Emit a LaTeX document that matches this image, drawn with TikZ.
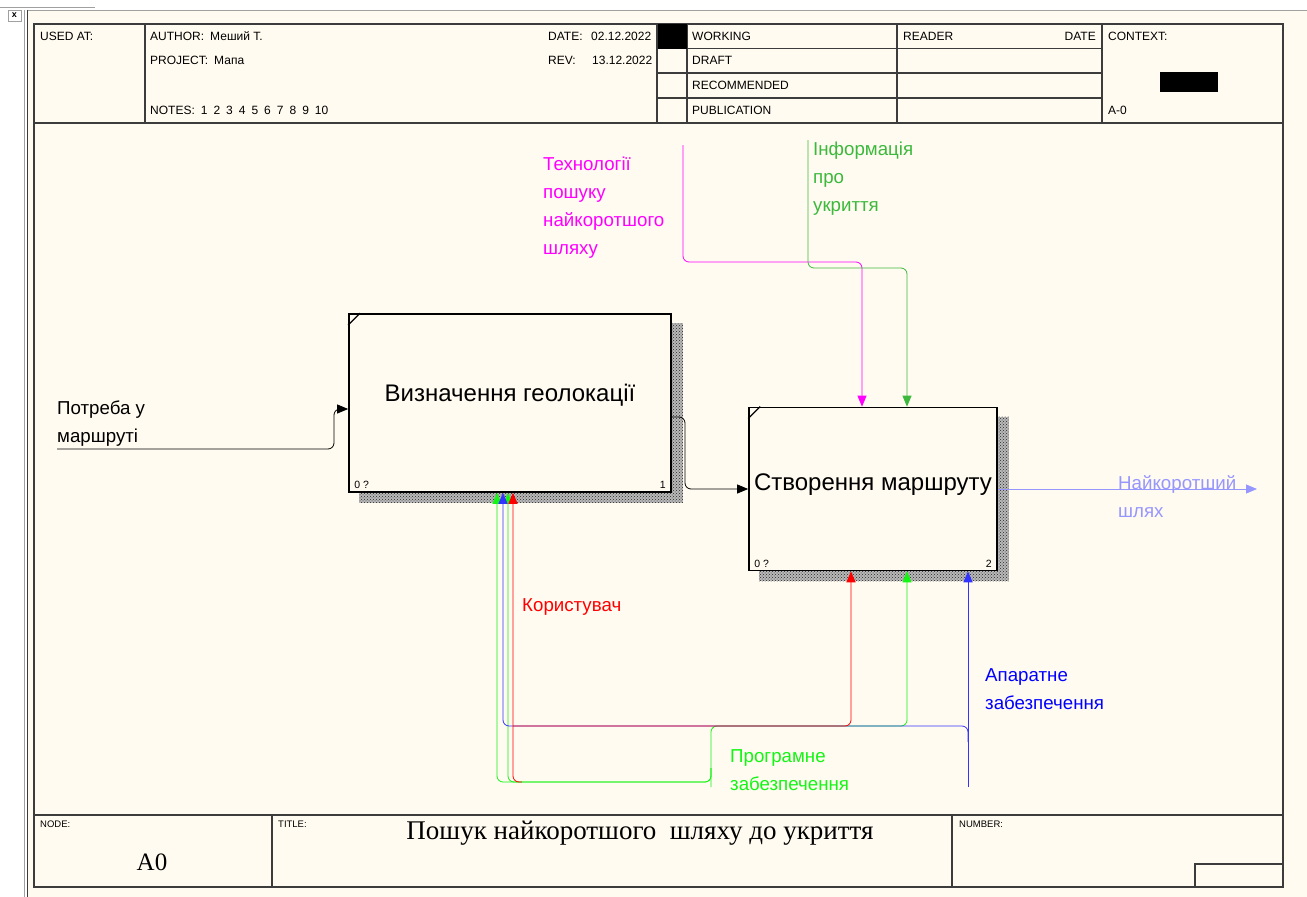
\documentclass[tikz,border=0pt]{standalone}
\usepackage{fontspec}
\setmainfont{Liberation Sans}
\newfontfamily\titleserif{Liberation Serif}
\usetikzlibrary{arrows.meta, positioning, patterns, backgrounds, calc}
\definecolor{pagecream}{RGB}{255,251,240}
\definecolor{framegray}{RGB}{60,60,60}
\definecolor{chromegray}{RGB}{160,160,160}
\definecolor{techmag}{RGB}{255,0,255}
\definecolor{infogreen}{RGB}{60,185,60}
\definecolor{swgreen}{RGB}{20,245,20}
\definecolor{userred}{RGB}{255,0,0}
\definecolor{hwblue}{RGB}{0,0,255}
\definecolor{outblue}{RGB}{150,150,255}
\newcommand{\hdrfont}{\fontsize{12}{14}\selectfont}
\newcommand{\capfont}{\fontsize{9.5}{11}\selectfont}
\newcommand{\actfont}{\fontsize{24}{28}\selectfont}
\newcommand{\lblfont}{\fontsize{18.7}{28}\selectfont}
\newcommand{\cornerfont}{\fontsize{10.5}{12}\selectfont}
\tikzset{
  framebox/.style={draw=framegray,line width=1.1pt},
  hdrtxt/.style={font=\hdrfont,inner sep=0pt,anchor=west},
  captxt/.style={font=\capfont,inner sep=0pt,anchor=north west},
  actbox/.style={rectangle,draw=black,line width=1.7pt,fill=pagecream,inner sep=0pt},
  acttxt/.style={font=\actfont,inner sep=0pt},
  cornertxt/.style={font=\cornerfont,inner sep=0pt},
  shadowbox/.style={fill=gray!55,postaction={pattern=crosshatch dots,pattern color=black!85}},
  arrlbl/.style={font=\lblfont,inner sep=0pt,anchor=north west,align=left},
  conn/.style={line width=0.8pt,rounded corners=6pt,-{Triangle[length=11pt,width=9pt]}},
  blackarr/.style={conn,color=black},
  magarr/.style={conn,color=techmag},
  infoarr/.style={conn,color=infogreen},
  swarr/.style={conn,color=swgreen},
  redarr/.style={conn,color=userred},
  bluearr/.style={conn,color=hwblue!80},
  outarr/.style={conn,color=outblue}
}
\begin{document}
\begin{tikzpicture}[x=1pt,y=-1pt]
  \useasboundingbox (0,0) rectangle (1307,897);
  % window chrome and page
  \begin{scope}[on background layer]
    \fill[white] (0,0) rectangle (1307,897);
    \fill[pagecream] (28,10) rectangle (1307,897);
  \end{scope}
  \draw[chromegray,line width=1pt] (0,7) -- (95,7);
  \draw[chromegray,line width=1pt] (28,10) -- (1307,10);
  \draw[chromegray,line width=1pt] (24,10) -- (24,897);
  \draw[framegray,line width=1pt] (27.5,10) -- (27.5,897);
  \draw[chromegray,line width=0.8pt] (8,10) rectangle (21,21);
  \node[font=\bfseries\fontsize{9}{9}\selectfont,inner sep=0pt] (winClose) at (14.5,15.5) {x};

  % frame and header
  \draw[framebox] (34,24) rectangle (1283,887);
  \draw[framebox] (34,123) -- (1283,123);
  \draw[framebox] (34,815) -- (1283,815);
  \draw[framebox] (145,24) -- (145,123);
  \draw[framebox] (657,24) -- (657,123);
  \draw[framebox] (687,24) -- (687,123);
  \draw[framebox] (897,24) -- (897,123);
  \draw[framebox] (1102,24) -- (1102,123);
  \foreach \rowy in {48.5,73,98}
    \draw[framebox] (657,\rowy) -- (1102,\rowy);
  \fill[black] (658,24) rectangle (687,48.5);
  \fill[black] (1160,72) rectangle (1218,92);

  \node[hdrtxt] (usedAt) at (40,36) {USED AT:};
  \node[hdrtxt] (author) at (150,36) {AUTHOR:\enspace Меший Т.};
  \node[hdrtxt] (project) at (150,60.5) {PROJECT:\enspace Мапа};
  \node[hdrtxt] (notes) at (150,110.5) {NOTES:\enspace 1\enspace 2\enspace 3\enspace 4\enspace 5\enspace 6\enspace 7\enspace 8\enspace 9\enspace 10};
  \node[hdrtxt] (dateLbl) at (548,36) {DATE:};
  \node[hdrtxt] (dateVal) at (591,36) {02.12.2022};
  \node[hdrtxt] (revLbl) at (548,60.5) {REV:};
  \node[hdrtxt] (revVal) at (592,60.5) {13.12.2022};
  \node[hdrtxt] (working) at (692,36) {WORKING};
  \node[hdrtxt] (draft) at (692,60.5) {DRAFT};
  \node[hdrtxt] (recomm) at (692,85.5) {RECOMMENDED};
  \node[hdrtxt] (publ) at (692,110.5) {PUBLICATION};
  \node[hdrtxt] (reader) at (903,36) {READER};
  \node[hdrtxt,anchor=east] (readDate) at (1096,36) {DATE};
  \node[hdrtxt] (context) at (1108,36) {CONTEXT:};
  \node[hdrtxt] (ctxNode) at (1108,110.5) {A-0};

  % footer
  \draw[framebox] (272,815) -- (272,887);
  \draw[framebox] (952,815) -- (952,887);
  \draw[framebox] (1195,864) rectangle (1283,887);
  \node[captxt] (nodeLbl) at (40,821) {NODE:};
  \node[captxt] (titleLbl) at (278,821) {TITLE:};
  \node[captxt] (numLbl) at (959,821) {NUMBER:};
  \node[font=\titleserif\fontsize{25}{28}\selectfont,inner sep=0pt] (nodeNum) at (152,862) {A0};
  \node[font=\titleserif\fontsize{27}{30}\selectfont,inner sep=0pt] (diagTitle) at (640,833) {Пошук найкоротшого\ \ шляху до укриття};

  % activity boxes
  \node[actbox,minimum width=322pt,minimum height=178pt] (geo) at (510,403) {};
  \node[actbox,minimum width=248pt,minimum height=163pt] (route) at (873,489) {};
  \begin{scope}[on background layer]
    \fill[shadowbox] ([shift={(11,10)}]geo.south west) rectangle ([shift={(11,10)}]geo.north east);
    \fill[shadowbox] ([shift={(11,10)}]route.south west) rectangle ([shift={(11,10)}]route.north east);
  \end{scope}
  \draw[line width=1.2pt] ([yshift=-12pt]geo.north west) -- ([xshift=12pt]geo.north west);
  \draw[line width=1.2pt] ([yshift=-12pt]route.north west) -- ([xshift=12pt]route.north west);
  \node[acttxt] (geoTxt) at ([yshift=8pt]geo.center) {Визначення геолокації};
  \node[acttxt] (routeTxt) at ([yshift=4pt]route.center) {Створення маршруту};
  \node[cornertxt,anchor=south west] (geoCost) at ([shift={(6pt,4pt)}]geo.south west) {0 ?};
  \node[cornertxt,anchor=south east] (geoNum) at ([shift={(-6pt,4pt)}]geo.south east) {1};
  \node[cornertxt,anchor=south west] (routeCost) at ([shift={(6pt,4pt)}]route.south west) {0 ?};
  \node[cornertxt,anchor=south east] (routeNum) at ([shift={(-6pt,4pt)}]route.south east) {2};

  % free ends and bends
  \coordinate (needIn) at (57,449);
  \coordinate (needBend) at (334,409);
  \coordinate (geoOutBend) at (685,417);
  \coordinate (pathOut) at (1257,489);
  \coordinate (techIn) at (683,145);
  \coordinate (techBend) at (862,262);
  \coordinate (infoIn) at (808,140);
  \coordinate (infoBend) at (907,268);
  \coordinate (swIn) at (711,787);
  \coordinate (swRight) at (907,726);
  \coordinate (swTap) at (711,768);
  \coordinate (swLeftA) at (508,782);
  \coordinate (swLeftB) at (497,782);
  \coordinate (hwIn) at (968,787);
  \coordinate (hwTap) at (968,742);
  \coordinate (hwLeft) at (503,726);
  \coordinate (userTap) at (513,726);
  \coordinate (userRight) at (851,726);
  \coordinate (userLow) at (522,782);

  % connectors
  \draw[blackarr] (needIn) -| (needBend) -- (needBend -| geo.west);
  \draw[blackarr] (geo.east |- geoOutBend) -- (geoOutBend) |- (route.west);
  \draw[outarr] (route.east) -- (pathOut);
  \draw[magarr] (techIn) |- (techBend) -- (techBend |- route.north);
  \draw[infoarr] (infoIn) |- (infoBend) -- (infoBend |- route.north);
  \draw[swarr] (swIn) |- (swRight) -- (swRight |- route.south);
  \draw[swarr] (swTap) |- (swLeftB) -- (swLeftB |- geo.south);
  \draw[swarr] (swTap) |- (swLeftA) -- (swLeftA |- geo.south);
  \draw[bluearr] (hwIn) -- (hwIn |- route.south);
  \draw[bluearr] (hwTap) |- (hwLeft) -- (hwLeft |- geo.south);
  \draw[redarr] (userLow) -| (userTap |- geo.south);
  \draw[redarr] (userTap) -- (userRight) -- (userRight |- route.south);

  % connector labels
  \node[arrlbl] (needLbl) at (57,401) {Потреба у\\маршруті};
  \node[arrlbl,text=techmag] (techLbl) at (543,157) {Технології\\пошуку\\найкоротшого\\шляху};
  \node[arrlbl,text=infogreen] (infoLbl) at (813,142) {Інформація\\про\\укриття};
  \node[arrlbl,text=userred] (userLbl) at (522,598) {Користувач};
  \node[arrlbl,text=swgreen] (swLbl) at (730,749) {Програмне\\забезпечення};
  \node[arrlbl,text=hwblue] (hwLbl) at (985,668) {Апаратне\\забезпечення};
  \node[arrlbl,text=outblue] (outLbl) at (1118,475) {Найкоротший\\шлях};
\end{tikzpicture}
\end{document}
